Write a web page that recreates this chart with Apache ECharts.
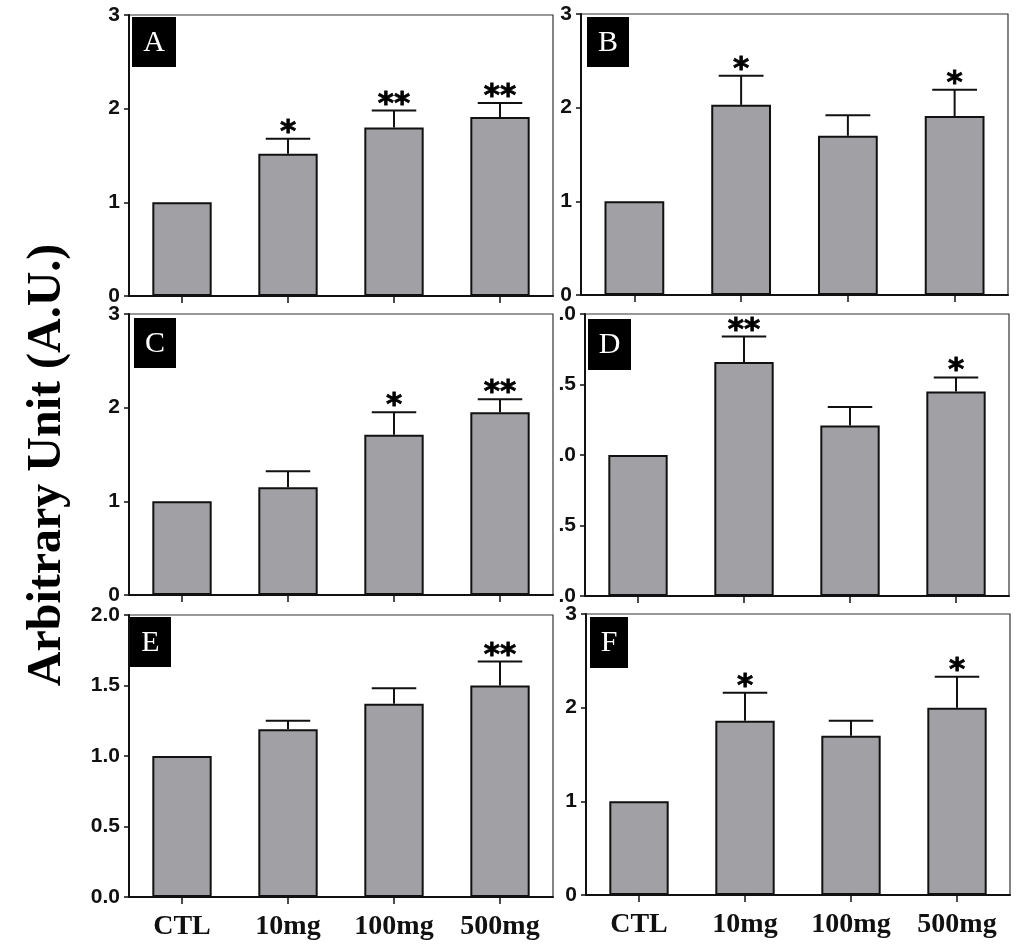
<!DOCTYPE html>
<html>
<head>
<meta charset="utf-8">
<script src="https://cdn.jsdelivr.net/npm/echarts@6/dist/echarts.min.js"></script>
<style>
html,body{margin:0;padding:0;background:#fff;}
#chart{width:1018px;height:946px;}
</style>
</head>
<body>
<div id="chart"></div>
<script>
// ---- data ----
const categories = ['CTL', '10mg', '100mg', '500mg'];
const panelNames = ['A', 'B', 'C', 'D', 'E', 'F'];

const meanA = [1.00, 1.52, 1.80, 1.91];
const errA  = [0, 0.16, 0.18, 0.15];
const sigA  = ['', '*', '**', '**'];

const meanB = [1.00, 2.03, 1.70, 1.91];
const errB  = [0, 0.31, 0.22, 0.28];
const sigB  = ['', '*', '', '*'];

const meanC = [1.00, 1.15, 1.71, 1.95];
const errC  = [0, 0.17, 0.24, 0.14];
const sigC  = ['', '', '*', '**'];

const meanD = [1.00, 1.66, 1.21, 1.45];
const errD  = [0, 0.18, 0.13, 0.10];
const sigD  = ['', '**', '', '*'];

const meanE = [1.00, 1.19, 1.37, 1.50];
const errE  = [0, 0.06, 0.11, 0.17];
const sigE  = ['', '', '', '**'];

const meanF = [1.00, 1.86, 1.70, 2.00];
const errF  = [0, 0.30, 0.16, 0.33];
const sigF  = ['', '*', '', '*'];

const yMaxes = [3, 3, 3, 2, 2, 3];
const yIntervals = [1, 1, 1, 0.5, 0.5, 1];
const yAxisTitle = 'Arbitrary Unit (A.U.)';

// ---- layout ----
const grids = [
  {left: 129, top: 15, width: 424, height: 281},
  {left: 581, top: 14, width: 427, height: 281},
  {left: 129, top: 314, width: 424, height: 281},
  {left: 585, top: 314, width: 424, height: 282},
  {left: 129, top: 615, width: 424, height: 282},
  {left: 586, top: 614, width: 424, height: 281}
];
const letterBoxes = [
  [132, 17, 44, 50], [587, 17, 42, 50], [134, 318, 42, 50],
  [588, 319, 43, 51], [130, 617, 41, 50], [590, 617, 38, 51]
];

const means = [meanA, meanB, meanC, meanD, meanE, meanF];
const errs = [errA, errB, errC, errD, errE, errF];
const sigs = [sigA, sigB, sigC, sigD, sigE, sigF];

const BAR_FRAC = 0.56;
const xAxes = [], yAxes = [], series = [], graphic = [];

for (let p = 0; p < 6; p++) {
  const showXLabels = p >= 4;
  xAxes.push({
    type: 'category', gridIndex: p, data: categories,
    axisLine: {show: true, lineStyle: {color: '#111', width: 2}},
    axisTick: {show: true, alignWithLabel: true, length: 7, lineStyle: {color: '#111', width: 1.5}},
    axisLabel: {show: showXLabels, margin: 16, color: '#111', fontFamily: 'Liberation Serif', fontWeight: 'bold', fontSize: 28},
    splitLine: {show: false}
  });
  const isD = p === 3;
  const isE = p === 4;
  yAxes.push({
    type: 'value', gridIndex: p, min: 0, max: yMaxes[p], interval: yIntervals[p],
    axisLine: {show: true, lineStyle: {color: '#111', width: 2}},
    axisTick: {show: true, length: 5, lineStyle: {color: '#111', width: 1.5}},
    axisLabel: {
      margin: 9, color: '#111', fontFamily: 'Liberation Sans', fontWeight: 'bold', fontSize: 21,
      formatter: function (v) {
        if (isD) return v.toFixed(1).slice(1);
        if (isE) return v.toFixed(1);
        return String(v);
      }
    },
    splitLine: {show: false}
  });
  series.push({
    type: 'bar', xAxisIndex: p, yAxisIndex: p, data: means[p],
    barWidth: (BAR_FRAC * 100) + '%',
    itemStyle: {color: '#a1a1a5', borderColor: '#111', borderWidth: 2},
    silent: true, z: 2
  });
  const errData = means[p].map((m, i) => [i, m, errs[p][i]]);
  const sigArr = sigs[p];
  series.push({
    type: 'custom', xAxisIndex: p, yAxisIndex: p, data: errData, z: 3, silent: true,
    encode: {x: 0, y: 1},
    renderItem: function (params, api) {
      const i = api.value(0), m = api.value(1), e = api.value(2);
      const base = api.coord([i, m]);
      const top = api.coord([i, m + e]);
      const bw = api.size([1, 0])[0] * BAR_FRAC;
      const cap = bw * 0.75;
      const children = [];
      if (e > 0) {
        children.push({type: 'line', shape: {x1: base[0], y1: base[1], x2: top[0], y2: top[1]}, style: {stroke: '#111', lineWidth: 2}});
        children.push({type: 'line', shape: {x1: top[0] - cap / 2, y1: top[1], x2: top[0] + cap / 2, y2: top[1]}, style: {stroke: '#111', lineWidth: 2}});
      }
      const s = sigArr[i];
      if (s) {
        children.push({type: 'text', x: top[0], y: top[1] - 6,
          style: {text: s, fill: '#000', font: 'bold 31px "DejaVu Sans"', align: 'center', verticalAlign: 'middle',
                  stroke: '#000', lineWidth: 0.8}});
      }
      return {type: 'group', children: children};
    }
  });
  const b = letterBoxes[p];
  graphic.push({type: 'rect', left: b[0], top: b[1], shape: {width: b[2], height: b[3]}, style: {fill: '#000'}, z: 10});
  graphic.push({type: 'text', x: b[0] + b[2] / 2, y: b[1] + b[3] / 2 + 1, z: 11,
    style: {text: panelNames[p], fill: '#fff', font: '30px "Liberation Serif"', align: 'center', verticalAlign: 'middle'}});
}

graphic.push({type: 'text', x: 48, y: 465, rotation: Math.PI / 2, z: 11,
  style: {text: yAxisTitle, fill: '#000', font: 'bold 48px "Liberation Serif"', align: 'center', verticalAlign: 'middle'}});

const chart = echarts.init(document.getElementById('chart'), null, {renderer: 'canvas'});
chart.setOption({
  animation: false,
  backgroundColor: '#fff',
  grid: grids.map(g => Object.assign({show: true, borderColor: '#333', borderWidth: 1.2, containLabel: false}, g)),
  xAxis: xAxes,
  yAxis: yAxes,
  series: series,
  graphic: graphic
});
</script>
</body>
</html>
